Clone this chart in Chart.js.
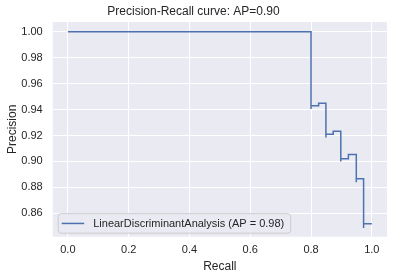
<!DOCTYPE html>
<html>
<head>
<meta charset="utf-8">
<script src="https://cdn.jsdelivr.net/npm/chart.js@4/dist/chart.umd.min.js"></script>
<style>
  html, body { margin: 0; padding: 0; background: #ffffff; }
  #wrap { width: 394px; height: 279px; }
</style>
</head>
<body>
<div id="wrap"><canvas id="prChart" width="394" height="279"></canvas></div>
<script>
// values
const recall    = [0, 0.8, 0.8, 0.825, 0.849, 0.849, 0.873, 0.898, 0.898, 0.923, 0.949, 0.949, 0.973, 0.973, 1.0];
const precision = [1.0, 0.9405, 0.943, 0.9448, 0.9185, 0.921, 0.9233, 0.900, 0.902, 0.9054, 0.884, 0.8866, 0.8488, 0.852, 0.852];
const xTicks = [0.0, 0.2, 0.4, 0.6, 0.8, 1.0];
const yTicks = [0.86, 0.88, 0.90, 0.92, 0.94, 0.96, 0.98, 1.00];
const seriesLabel = 'LinearDiscriminantAnalysis (AP = 0.98)';
const chartTitle = 'Precision-Recall curve: AP=0.90';

const FONT = "'Liberation Sans', Arial, sans-serif";
const TXT = '#262626';

// grey axes background like seaborn darkgrid
const bgPlugin = {
    id: 'bg',
    beforeDraw(chart) {
        const a = chart.chartArea, c = chart.ctx;
        c.save();
        c.fillStyle = '#eaeaf2';
        c.fillRect(a.left, a.top, a.right - a.left, a.bottom - a.top);
        c.restore();
    }
};

// legend drawn inside the axes, lower left
const innerLegend = {
    id: 'innerLegend',
    afterDatasetsDraw(chart) {
        const a = chart.chartArea, c = chart.ctx;
        const ds = chart.data.datasets[0];
        const x = a.left + 5.5, y = a.bottom - 23, w = 232.5, h = 19.5;
        c.save();
        c.beginPath();
        c.roundRect(x, y, w, h, 3);
        c.fillStyle = 'rgba(234,234,242,0.8)';
        c.fill();
        c.strokeStyle = '#cccccc';
        c.lineWidth = 1;
        c.stroke();
        c.beginPath();
        c.moveTo(x + 3.5, y + h / 2);
        c.lineTo(x + 26, y + h / 2);
        c.strokeStyle = ds.borderColor;
        c.lineWidth = 1.5;
        c.stroke();
        c.fillStyle = TXT;
        c.font = '11px ' + FONT;
        c.textBaseline = 'middle';
        c.fillText(ds.label, x + 35, y + h / 2 + 0.5);
        c.restore();
    }
};

new Chart(document.getElementById('prChart'), {
    type: 'line',
    data: {
        datasets: [{
            label: seriesLabel,
            data: recall.map((r, i) => ({ x: r, y: precision[i] })),
            borderColor: '#4c72b0',
            borderWidth: 1.5,
            stepped: true,
            pointRadius: 0,
            fill: false
        }]
    },
    options: {
        responsive: false,
        animation: false,
        layout: { padding: { left: 0, right: 7, top: 0, bottom: 0 } },
        plugins: {
            legend: { display: false },
            tooltip: { enabled: false },
            title: {
                display: true,
                text: chartTitle,
                color: TXT,
                font: { family: FONT, size: 12, weight: 'normal' },
                padding: { top: 4, bottom: 3.6 }
            }
        },
        scales: {
            x: {
                type: 'linear',
                min: -0.05,
                max: 1.05,
                afterBuildTicks(s) { s.ticks = xTicks.map(v => ({ value: v })); },
                afterFit(s) { s.height = 42.3; },
                grid: { color: '#ffffff', lineWidth: 1, drawTicks: false },
                border: { display: false },
                ticks: {
                    color: TXT, padding: 7,
                    font: { family: FONT, size: 11 },
                    callback: v => v.toFixed(1)
                },
                title: {
                    display: true, text: 'Recall', color: TXT,
                    font: { family: FONT, size: 12 },
                    padding: { top: 4, bottom: 4.8 }
                }
            },
            y: {
                type: 'linear',
                min: 0.842,
                max: 1.0075,
                afterBuildTicks(s) { s.ticks = yTicks.map(v => ({ value: v })); },
                afterFit(s) { s.width = 52.7; },
                grid: { color: '#ffffff', lineWidth: 1, drawTicks: false },
                border: { display: false },
                ticks: {
                    color: TXT, padding: 10,
                    font: { family: FONT, size: 11 },
                    callback: v => v.toFixed(2)
                },
                title: {
                    display: true, text: 'Precision', color: TXT,
                    font: { family: FONT, size: 12 },
                    padding: { top: 5.5, bottom: 4 }
                }
            }
        }
    },
    plugins: [bgPlugin, innerLegend]
});
</script>
</body>
</html>
